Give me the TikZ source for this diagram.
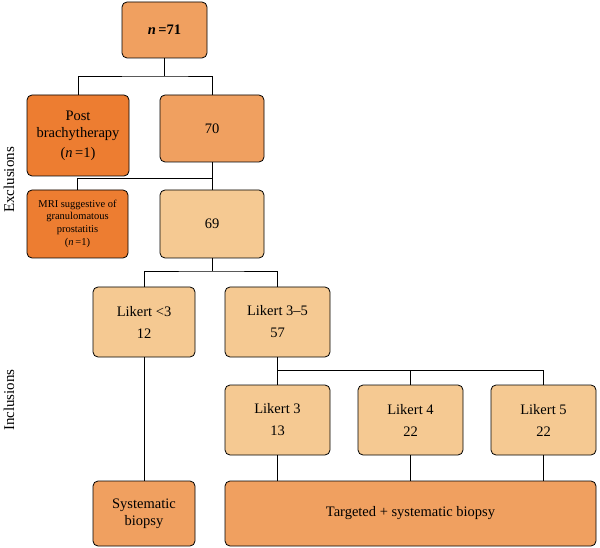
\documentclass[tikz,border=0pt]{standalone}
\usepackage{fontspec}
\setmainfont{Liberation Serif}
\begin{document}
\begin{tikzpicture}[x=1pt,y=-1pt,
  box/.style={draw=black,line width=0.8pt,rounded corners=5pt,align=center,inner sep=1pt,font=\fontsize{14.5}{17}\selectfont},
  mid/.style={box,fill=orangeM},
  dark/.style={box,fill=orangeD},
  light/.style={box,fill=orangeL},
  ln/.style={line width=0.8pt}]
\definecolor{orangeM}{HTML}{F0A060}
\definecolor{orangeD}{HTML}{ED7D31}
\definecolor{orangeL}{HTML}{F5C992}
\useasboundingbox (0,0) rectangle (600,548);
\node[mid,minimum width=85pt,minimum height=56pt] (n71) at (164.5,30) {\textbf{\textit{n}\,=71}};
\node[dark,minimum width=102pt,minimum height=81pt] (post) at (78,135.5) {Post\\brachytherapy\\[3pt](\textit{n}\,=1)};
\node[mid,minimum width=104pt,minimum height=67pt] (n70) at (212,128.5) {70};
\node[dark,minimum width=101pt,minimum height=68pt,font=\fontsize{10.5}{12.5}\selectfont] (mri) at (77.5,224) {MRI suggestive of\\granulomatous\\prostatitis\\[1pt](\textit{n}\,=1)};
\node[light,minimum width=104pt,minimum height=68pt] (n69) at (212,224) {69};
\node[light,minimum width=102pt,minimum height=70pt] (l3) at (144,322) {Likert <3\\[5pt]12};
\node[light,minimum width=105pt,minimum height=70pt] (l35) at (277.5,322) {Likert 3–5\\[5pt]57};
\node[light,minimum width=105pt,minimum height=70pt] (la) at (277.5,420) {Likert 3\\[5pt]13};
\node[light,minimum width=105pt,minimum height=70pt] (lb) at (410.5,420) {Likert 4\\[5pt]22};
\node[light,minimum width=105pt,minimum height=70pt] (lc) at (543.5,420) {Likert 5\\[5pt]22};
\node[mid,minimum width=102pt,minimum height=65pt] (sys) at (144,513.5) {Systematic\\biopsy};
\node[mid,minimum width=371pt,minimum height=65pt] (tgt) at (410.5,513.5) {Targeted + systematic biopsy};
\node[rotate=90,font=\fontsize{15}{17}\selectfont] (exc) at (9,180) {Exclusions};
\node[rotate=90,font=\fontsize{15}{17}\selectfont] (inc) at (9,400) {Inclusions};
\coordinate (j1) at (164.5,76);
\coordinate (j2) at (212,178);
\coordinate (j3) at (212,271);
\coordinate (j4) at (277.5,370);
\draw[ln] (n71.south) -- (j1) (post.north) |- (j1) -| (n70.north);
\draw[ln] (n70.south) -- (n69.north) (j2) -| (mri.north);
\draw[ln] (n69.south) -- (j3) (l3.north) |- (j3) -| (l35.north);
\draw[ln] (l3.south) -- (sys.north);
\draw[ln] (l35.south) -- (la.north) (j4) -| (lb.north) (j4) -| (lc.north);
\draw[ln] (la.south) -- (la.south|-tgt.north) (lb.south) -- (lb.south|-tgt.north) (lc.south) -- (lc.south|-tgt.north);
\end{tikzpicture}
\end{document}
